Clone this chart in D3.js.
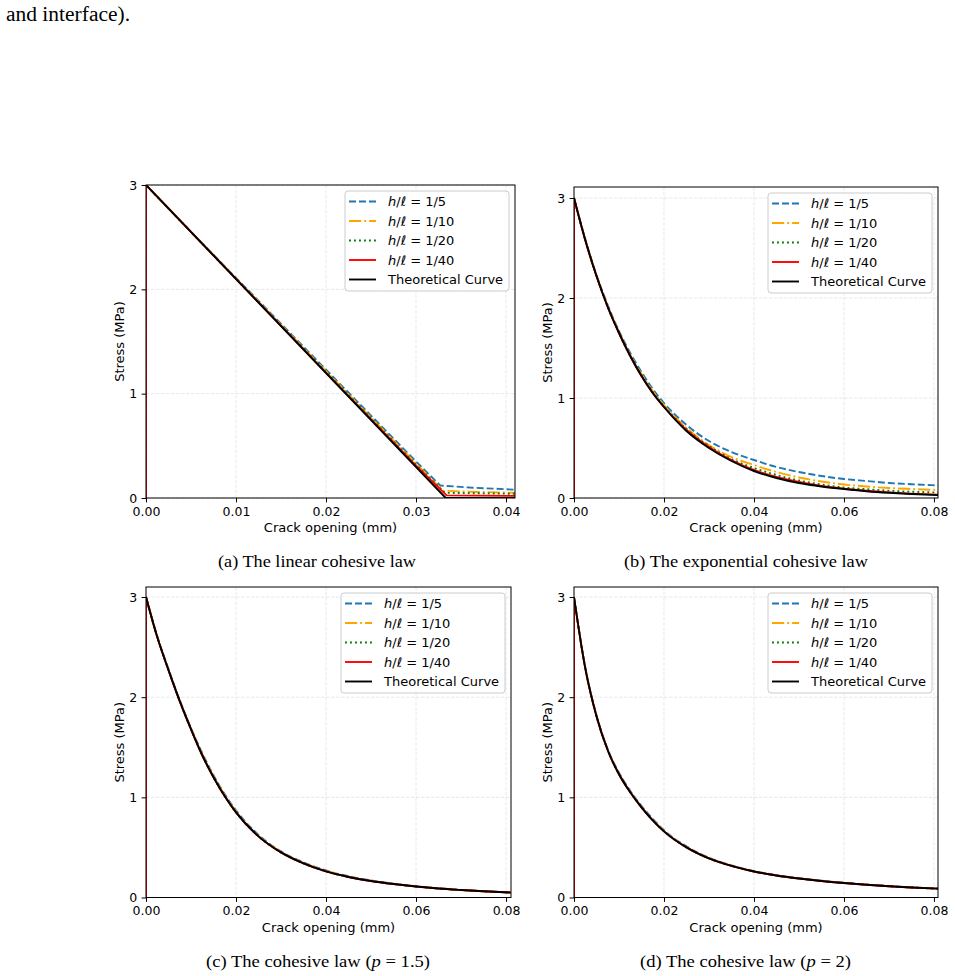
<!DOCTYPE html>
<html>
<head>
<meta charset="utf-8">
<script src="https://cdn.jsdelivr.net/npm/d3@7"></script>
<style>
body { margin: 0; background: #fff; }
svg { display: block; }
</style>
</head>
<body>
<svg id="fig" width="955" height="976"></svg>
<script>
// ---- data ----
const meshRatios = ["1/5", "1/10", "1/20", "1/40"];
const theoryLabel = "Theoretical Curve";

// (a) linear law: each series has its own kink, so own x values
const aTheoryW = [0, 0.0333, 0.041];
const aTheory  = [3, 0, 0];
const aW5  = [0, 0, 0.005, 0.01, 0.015, 0.02, 0.025, 0.03, 0.0327, 0.036, 0.041];
const a5   = [0, 3, 2.55, 2.11, 1.67, 1.23, 0.79, 0.35, 0.12, 0.10, 0.08];
const aW10 = [0, 0, 0.01, 0.02, 0.03, 0.033, 0.036, 0.041];
const a10  = [0, 3, 2.105, 1.215, 0.33, 0.07, 0.06, 0.05];
const aW20 = [0, 0, 0.01, 0.02, 0.03, 0.0332, 0.041];
const a20  = [0, 3, 2.10, 1.21, 0.32, 0.05, 0.04];
const aW40 = [0, 0, 0.01, 0.02, 0.03, 0.0334, 0.041];
const a40  = [0, 3, 2.10, 1.20, 0.31, 0.025, 0.02];

// (b)-(d) share the crack opening samples; simulations start at (0, 0)
const wCurve = [0, 0.0025, 0.005, 0.0075, 0.01, 0.0125, 0.015, 0.0175, 0.02, 0.025, 0.03,
                0.035, 0.04, 0.045, 0.05, 0.055, 0.06, 0.065, 0.07, 0.075, 0.081];
const wSim = [0].concat(wCurve);

// (b) exponential law
const bTheory = [3.00, 2.58, 2.22, 1.91, 1.65, 1.42, 1.22, 1.05, 0.91, 0.67, 0.50, 0.37, 0.27, 0.20, 0.15, 0.115, 0.09, 0.068, 0.052, 0.040, 0.028];
const b5  = [0, 3.00, 2.59, 2.23, 1.93, 1.67, 1.45, 1.26, 1.09, 0.95, 0.73, 0.57, 0.46, 0.38, 0.31, 0.26, 0.22, 0.19, 0.17, 0.15, 0.138, 0.125];
const b10 = [0, 3.00, 2.58, 2.22, 1.92, 1.66, 1.43, 1.24, 1.07, 0.93, 0.70, 0.53, 0.41, 0.33, 0.26, 0.205, 0.165, 0.135, 0.115, 0.10, 0.09, 0.08];
const b20 = [0, 3.00, 2.58, 2.22, 1.91, 1.65, 1.42, 1.23, 1.06, 0.92, 0.69, 0.52, 0.39, 0.30, 0.23, 0.175, 0.135, 0.105, 0.088, 0.073, 0.063, 0.055];
const b40 = [0, 3.00, 2.58, 2.22, 1.91, 1.65, 1.42, 1.22, 1.05, 0.91, 0.68, 0.51, 0.38, 0.28, 0.21, 0.16, 0.12, 0.093, 0.072, 0.056, 0.044, 0.034];

// (c) p = 1.5
const cTheory = [3.00, 2.60, 2.27, 1.96, 1.68, 1.42, 1.20, 1.01, 0.85, 0.61, 0.45, 0.34, 0.26, 0.205, 0.165, 0.135, 0.11, 0.09, 0.075, 0.062, 0.05];
const c5  = [0, 3.00, 2.61, 2.28, 1.97, 1.69, 1.44, 1.22, 1.03, 0.87, 0.625, 0.46, 0.35, 0.27, 0.212, 0.17, 0.138, 0.112, 0.092, 0.077, 0.063, 0.051];
const c10 = [0, 3.00, 2.60, 2.27, 1.96, 1.685, 1.43, 1.21, 1.02, 0.86, 0.615, 0.455, 0.345, 0.265, 0.208, 0.167, 0.136, 0.111, 0.091, 0.076, 0.062, 0.05];
const c20 = [0, 3.00, 2.60, 2.27, 1.96, 1.68, 1.42, 1.20, 1.01, 0.85, 0.61, 0.45, 0.34, 0.26, 0.205, 0.165, 0.135, 0.11, 0.09, 0.075, 0.062, 0.05];
const c40 = [0, 3.00, 2.60, 2.27, 1.96, 1.68, 1.42, 1.20, 1.01, 0.85, 0.61, 0.45, 0.34, 0.26, 0.205, 0.165, 0.135, 0.11, 0.09, 0.075, 0.062, 0.05];

// (d) p = 2
const dTheory = [3.00, 2.29, 1.81, 1.47, 1.23, 1.05, 0.90, 0.77, 0.66, 0.50, 0.39, 0.315, 0.26, 0.22, 0.19, 0.165, 0.145, 0.128, 0.113, 0.10, 0.088];
const d5  = [0, 3.00, 2.30, 1.82, 1.48, 1.245, 1.065, 0.915, 0.785, 0.672, 0.51, 0.397, 0.32, 0.264, 0.223, 0.192, 0.167, 0.147, 0.129, 0.114, 0.101, 0.089];
const d10 = [0, 3.00, 2.29, 1.815, 1.475, 1.235, 1.055, 0.905, 0.775, 0.664, 0.503, 0.392, 0.317, 0.261, 0.221, 0.191, 0.166, 0.146, 0.128, 0.113, 0.10, 0.088];
const d20 = [0, 3.00, 2.29, 1.81, 1.47, 1.23, 1.05, 0.90, 0.77, 0.66, 0.50, 0.39, 0.315, 0.26, 0.22, 0.19, 0.165, 0.145, 0.128, 0.113, 0.10, 0.088];
const d40 = [0, 3.00, 2.29, 1.81, 1.47, 1.23, 1.05, 0.90, 0.77, 0.66, 0.50, 0.39, 0.315, 0.26, 0.22, 0.19, 0.165, 0.145, 0.128, 0.113, 0.10, 0.088];

const xTicksA = [0, 0.01, 0.02, 0.03, 0.04];
const xTicksB = [0, 0.02, 0.04, 0.06, 0.08];
const yTicks = [0, 1, 2, 3];

// ---- styles ----
const sans = "DejaVu Sans, sans-serif";
const serif = "Liberation Serif, Times New Roman, serif";
const lineStyles = [
    { color: "#1f77b4", dash: "7,3" },
    { color: "#ffa500", dash: "12.2,3,1.9,3" },
    { color: "#008000", dash: "1.9,3.1" },
    { color: "#ff0000", dash: null },
    { color: "#000000", dash: null }
];

const svg = d3.select("#fig");
svg.append("rect").attr("width", 955).attr("height", 976).attr("fill", "#fff");

// top line of body text
svg.append("text")
    .attr("x", 6).attr("y", 21)
    .attr("font-family", serif).attr("font-size", 20)
    .attr("textLength", 124).attr("lengthAdjust", "spacingAndGlyphs")
    .text("and interface).");

const panels = [
    { id: "a", left: 146, right: 515, top: 185, bottom: 498, xDomain: [0, 0.041], yDomain: [0, 3],
      xTicks: xTicksA, curve: d3.curveLinear,
      series: [[aW5, a5], [aW10, a10], [aW20, a20], [aW40, a40], [aTheoryW, aTheory]] },
    { id: "b", left: 574, right: 938, top: 187, bottom: 498, xDomain: [0, 0.0809], yDomain: [0, 3.11],
      xTicks: xTicksB, curve: d3.curveMonotoneX,
      series: [[wSim, b5], [wSim, b10], [wSim, b20], [wSim, b40], [wCurve, bTheory]] },
    { id: "c", left: 146, right: 511, top: 587, bottom: 897.5, xDomain: [0, 0.0811], yDomain: [0, 3.10],
      xTicks: xTicksB, curve: d3.curveMonotoneX,
      series: [[wSim, c5], [wSim, c10], [wSim, c20], [wSim, c40], [wCurve, cTheory]] },
    { id: "d", left: 574, right: 938, top: 587, bottom: 897.5, xDomain: [0, 0.0809], yDomain: [0, 3.10],
      xTicks: xTicksB, curve: d3.curveMonotoneX,
      series: [[wSim, d5], [wSim, d10], [wSim, d20], [wSim, d40], [wCurve, dTheory]] }
];

const captions = [
    { x: 317, y: 567, len: 198, parts: [["(a) The linear cohesive law", false]] },
    { x: 746, y: 567, len: 244, parts: [["(b) The exponential cohesive law", false]] },
    { x: 318, y: 967, len: 224, parts: [["(c) The cohesive law (", false], ["p", true], [" = 1.5)", false]] },
    { x: 745.5, y: 967, len: 211, parts: [["(d) The cohesive law (", false], ["p", true], [" = 2)", false]] }
];

// path with an optional vertical start segment (two points at the same x)
function seriesPath(xs, ys, x, y, curve) {
    const pts = xs.map((v, i) => [x(v), y(ys[i])]);
    const line = d3.line().curve(curve);
    if (pts.length > 2 && xs[0] === xs[1]) {
        return `M${pts[0][0]},${pts[0][1]}` + line(pts.slice(1)).replace(/^M/, "L");
    }
    return line(pts);
}

function drawPanel(p) {
    const g = svg.append("g");
    const x = d3.scaleLinear().domain(p.xDomain).range([p.left, p.right]);
    const y = d3.scaleLinear().domain(p.yDomain).range([p.bottom, p.top]);

    svg.append("clipPath").attr("id", "clip-" + p.id)
        .append("rect")
        .attr("x", p.left).attr("y", p.top)
        .attr("width", p.right - p.left).attr("height", p.bottom - p.top);

    // grid
    const grid = g.append("g")
        .attr("stroke", "#b0b0b0").attr("stroke-opacity", 0.35)
        .attr("stroke-width", 0.8).attr("stroke-dasharray", "3.5,1.5");
    grid.selectAll(".gx").data(p.xTicks).enter().append("line")
        .attr("x1", d => x(d)).attr("x2", d => x(d))
        .attr("y1", p.top).attr("y2", p.bottom);
    grid.selectAll(".gy").data(yTicks).enter().append("line")
        .attr("x1", p.left).attr("x2", p.right)
        .attr("y1", d => y(d)).attr("y2", d => y(d));

    // curves
    const lines = g.append("g").attr("clip-path", `url(#clip-${p.id})`);
    p.series.forEach((s, i) => {
        const st = lineStyles[i];
        lines.append("path")
            .attr("d", seriesPath(s[0], s[1], x, y, p.curve))
            .attr("fill", "none")
            .attr("stroke", st.color)
            .attr("stroke-width", 1.9)
            .attr("stroke-dasharray", st.dash);
    });

    // spines
    g.append("rect")
        .attr("x", p.left).attr("y", p.top)
        .attr("width", p.right - p.left).attr("height", p.bottom - p.top)
        .attr("fill", "none").attr("stroke", "#000").attr("stroke-width", 1);

    // axes
    const xAxis = g.append("g")
        .attr("transform", `translate(0,${p.bottom})`)
        .call(d3.axisBottom(x).tickValues(p.xTicks).tickFormat(d3.format(".2f"))
            .tickSize(4.4).tickPadding(4.4));
    const yAxis = g.append("g")
        .attr("transform", `translate(${p.left},0)`)
        .call(d3.axisLeft(y).tickValues(yTicks).tickFormat(d3.format("d"))
            .tickSize(4.4).tickPadding(4.4));
    [xAxis, yAxis].forEach(a => {
        a.select(".domain").remove();
        a.selectAll("text").attr("font-family", sans).attr("font-size", 12.5).attr("fill", "#000");
        a.selectAll("line").attr("stroke", "#000").attr("stroke-width", 1);
    });

    g.append("text")
        .attr("x", (p.left + p.right) / 2).attr("y", p.bottom + 34)
        .attr("text-anchor", "middle")
        .attr("font-family", sans).attr("font-size", 13)
        .text("Crack opening (mm)");
    g.append("text")
        .attr("transform", `translate(${p.left - 27},${(p.top + p.bottom) / 2}) rotate(-90)`)
        .attr("text-anchor", "middle").attr("dy", "0.35em")
        .attr("font-family", sans).attr("font-size", 13)
        .text("Stress (MPa)");

    // legend
    const lw = 164, lh = 100;
    const lx = p.right - 6 - lw, ly = p.top + 6;
    const leg = g.append("g");
    leg.append("rect")
        .attr("x", lx).attr("y", ly).attr("width", lw).attr("height", lh)
        .attr("rx", 3).attr("fill", "#fff").attr("fill-opacity", 0.8)
        .attr("stroke", "#cccccc").attr("stroke-width", 1);
    lineStyles.forEach((st, i) => {
        const cy = ly + 10.5 + i * 19.5;
        leg.append("line")
            .attr("x1", lx + 4).attr("x2", lx + 31)
            .attr("y1", cy).attr("y2", cy)
            .attr("stroke", st.color).attr("stroke-width", 1.9)
            .attr("stroke-dasharray", st.dash);
        const t = leg.append("text")
            .attr("x", lx + 43).attr("y", cy).attr("dy", "0.36em")
            .attr("font-family", sans).attr("font-size", 13);
        if (i < meshRatios.length) {
            t.append("tspan").attr("font-style", "italic").text("h");
            t.append("tspan").text("/");
            t.append("tspan").attr("font-style", "italic").text("ℓ");
            t.append("tspan").text(" = " + meshRatios[i]);
        } else {
            t.text(theoryLabel);
        }
    });
}

panels.forEach(drawPanel);

captions.forEach(c => {
    const t = svg.append("text")
        .attr("x", c.x).attr("y", c.y)
        .attr("text-anchor", "middle")
        .attr("font-family", serif).attr("font-size", 17.5)
        .attr("textLength", c.len).attr("lengthAdjust", "spacingAndGlyphs");
    c.parts.forEach(([s, it]) => {
        const ts = t.append("tspan").text(s);
        if (it) ts.attr("font-style", "italic");
    });
});
</script>
</body>
</html>
